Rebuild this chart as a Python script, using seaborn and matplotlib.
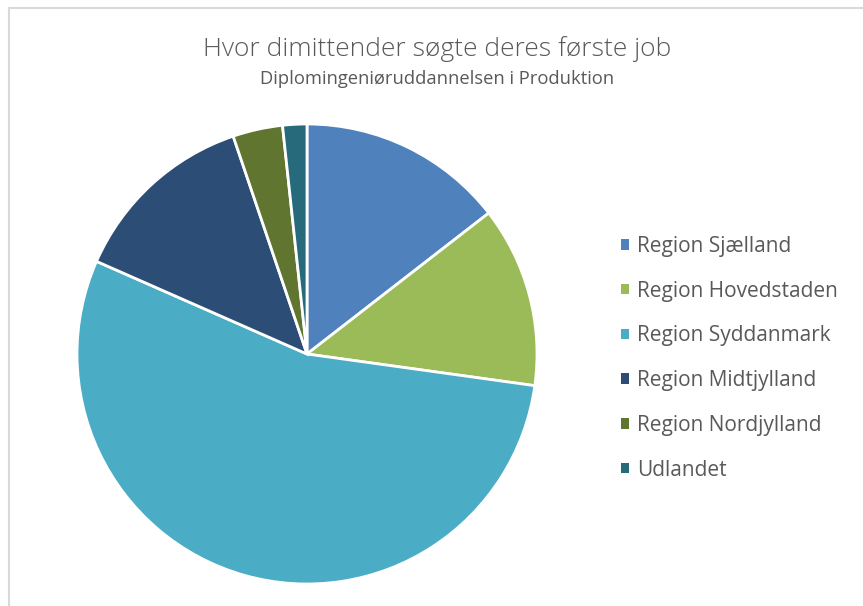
import matplotlib.pyplot as plt
import seaborn as sns
from matplotlib.patches import Patch, Rectangle

regions = ["Region Sjælland", "Region Hovedstaden", "Region Syddanmark",
           "Region Midtjylland", "Region Nordjylland", "Udlandet"]
shares = [14.5, 12.7, 54.4, 13.2, 3.5, 1.7]
colors = ["#4F81BD", "#9BBB59", "#4BACC6", "#2C4D75", "#5F7530", "#276A7C"]

sns.set_theme(style="white")
plt.rcParams["font.family"] = ["Open Sans", "DejaVu Sans"]

W, H = 863, 606
fig = plt.figure(figsize=(W / 100, H / 100), dpi=100)

# chart frame (only left and top edges visible in the crop)
fig.patches.append(Rectangle((9 / W, -0.1), 1.2, (H - 8) / H + 0.1,
                             transform=fig.transFigure, fill=False,
                             edgecolor="#D9D9D9", linewidth=1.5))

cx, cy, r = 307, 354, 230
ax = fig.add_axes([(cx - r) / W, (H - cy - r) / H, 2 * r / W, 2 * r / H])
ax.pie(shares, colors=colors, startangle=90, counterclock=False,
       wedgeprops=dict(edgecolor="white", linewidth=2))
ax.set_xlim(-1, 1)
ax.set_ylim(-1, 1)
ax.set_aspect("equal")
ax.axis("off")

fig.text(437 / W, 1 - 49 / H, "Hvor dimittender søgte deres første job",
         ha="center", va="center", fontsize=19, color="#595959",
         fontweight="light")
fig.text(437 / W, 1 - 79 / H, "Diplomingeniøruddannelsen i Produktion",
         ha="center", va="center", fontsize=13.2, color="#595959")

handles = [Patch(facecolor=c, edgecolor="none") for c in colors]
leg = fig.legend(handles, regions, loc="upper left",
                 bbox_to_anchor=(602 / W, 1 - 217 / H), frameon=False,
                 fontsize=15, labelcolor="#595959", handlelength=0.4,
                 handleheight=0.4, handletextpad=0.4, labelspacing=1.14)

fig.savefig("out.png", dpi=100)
